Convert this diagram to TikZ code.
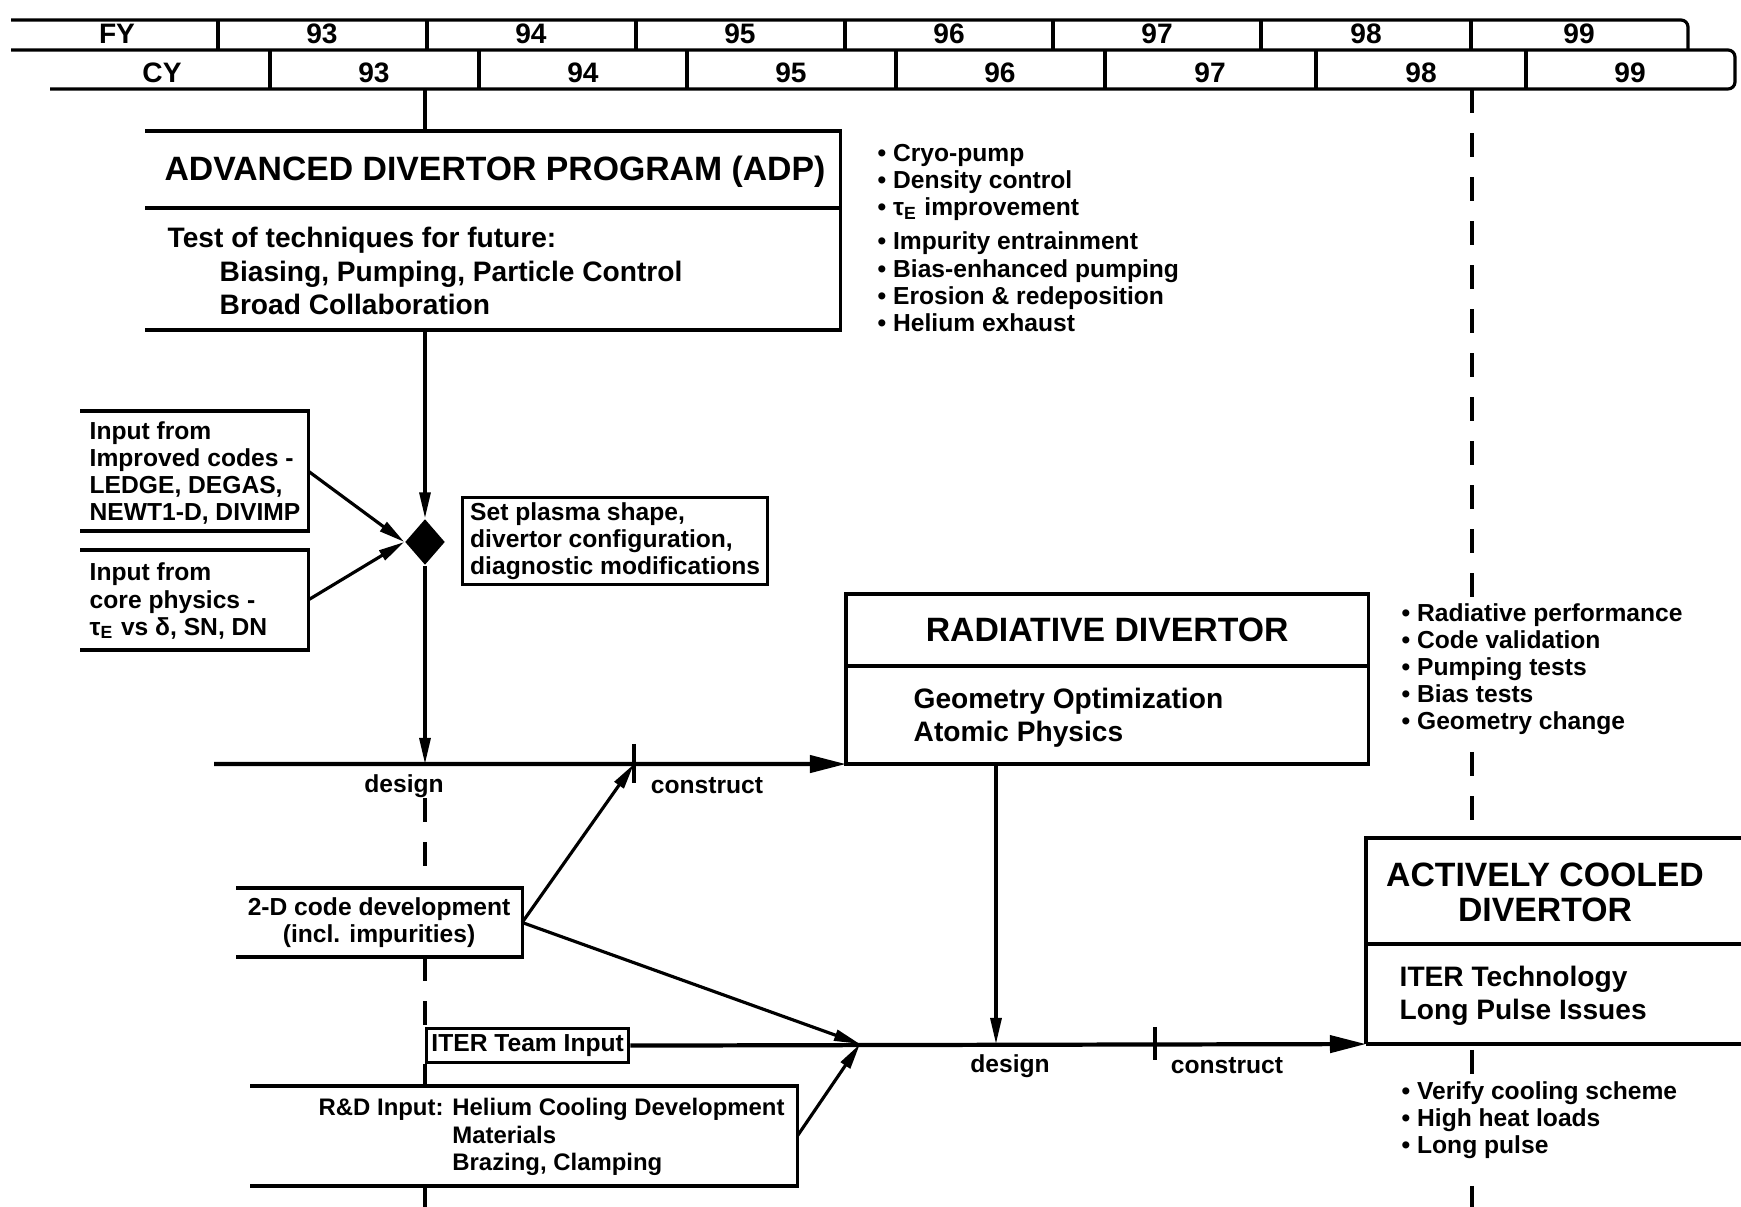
\documentclass[tikz,border=0pt]{standalone}
\usepackage{fontspec}
\setmainfont{Liberation Sans}
\usetikzlibrary{positioning, arrows.meta, shapes.geometric}

\begin{document}
\begin{tikzpicture}[x=0.01cm, y=-0.01cm,
        ln/.style={line width=0.9pt},
        tl/.style={line width=1.2pt},
        dsh/.style={line width=0.9pt, dash pattern=on 0.24cm off 0.2cm},
        arr/.style={ln, -{Triangle[length=2.6mm, width=1.1mm]}},
        bigarr/.style={tl, -{Triangle[length=3.6mm, width=1.7mm]}},
        frame/.style={anchor=north west, inner sep=0pt, outer sep=0pt},
        yr/.style={font=\bfseries\fontsize{8}{9}\selectfont},
        head/.style={inner sep=0pt, align=center, font=\bfseries\fontsize{9.6}{10}\selectfont},
        body/.style={inner sep=0pt, anchor=west, align=left, font=\bfseries\fontsize{8}{9.4}\selectfont},
        note/.style={inner sep=0pt, align=left, font=\bfseries\fontsize{7}{7.7}\selectfont}]
        \useasboundingbox (0,0) rectangle (1741,1207);
        % year table
        \draw[ln, rounded corners=2pt] (11,20) -- (1688,20) -- (1688,50);
        \draw[ln, rounded corners=2pt] (11,50) -- (1735,50) -- (1735,89) -- (50,89);
        \draw[ln] (218,20) -- (218,50) (427,20) -- (427,50) (636,20) -- (636,50) (845,20) -- (845,50)
                  (1053,20) -- (1053,50) (1261,20) -- (1261,50) (1471,20) -- (1471,50);
        \draw[ln] (270,50) -- (270,89) (479,50) -- (479,89) (687,50) -- (687,89) (896,50) -- (896,89)
                  (1105,50) -- (1105,89) (1316,50) -- (1316,89) (1526,50) -- (1526,89);
        \path[yr] (117,34) node (fy) {FY} (322,34) node (fy93) {93} (531,34) node (fy94) {94}
              (740,34) node (fy95) {95} (949,34) node (fy96) {96} (1157,34) node (fy97) {97}
              (1366,34) node (fy98) {98} (1579,34) node (fy99) {99};
        \path[yr] (162,73) node (cy) {CY} (374,73) node (cy93) {93} (583,73) node (cy94) {94}
              (791,73) node (cy95) {95} (1000,73) node (cy96) {96} (1210,73) node (cy97) {97}
              (1421,73) node (cy98) {98} (1630,73) node (cy99) {99};

        % advanced divertor program
        \node[frame, minimum width=6.95cm, minimum height=0.77cm] (adpt) at (145,131) {};
        \node[frame, minimum width=6.95cm, minimum height=1.22cm] (adpb) at (145,208) {};
        \draw[ln] (adpt.north west) -- (adpt.north east) -- (adpb.south east) -- (adpb.south west);
        \draw[ln] (adpt.south west) -- (adpt.south east);
        \draw[ln] (425,89) -- (425,131);
        \node[head] (adptx) at (495,172) {ADVANCED DIVERTOR PROGRAM (ADP)};
        \node[body] (adpbx) at (167,271) {Test of techniques for future:\\
            \hspace*{0.52cm}Biasing, Pumping, Particle Control\\
            \hspace*{0.52cm}Broad Collaboration};
        \node[note, anchor=west] (adpls) at (877,238) {• Cryo-pump\\• Density control\\
            • τ\textsubscript{E} improvement\\[2pt]• Impurity entrainment\\• Bias-enhanced pumping\\
            • Erosion \& redeposition\\• Helium exhaust};

        % inputs and diamond
        \node[diamond, fill, inner sep=0pt, minimum width=0.4cm, minimum height=0.46cm] (dia) at (425,542) {};
        \node[frame, minimum width=2.28cm, minimum height=1.2cm] (codes) at (80,411) {};
        \node[frame, minimum width=2.28cm, minimum height=1cm] (core) at (80,550) {};
        \draw[ln] (codes.north west) -- (codes.north east) -- (codes.south east) -- (codes.south west);
        \draw[ln] (core.north west) -- (core.north east) -- (core.south east) -- (core.south west);
        \node[note, anchor=west] (codestx) at (89,473) {Input from\\Improved codes -\\LEDGE, DEGAS,\\NEWT1-D, DIVIMP};
        \node[note, anchor=west] (coretx) at (89,601) {Input from\\core physics -\\τ\textsubscript{E} vs δ, SN, DN};
        \node[note, draw, ln, anchor=north west, minimum width=3.05cm, minimum height=0.87cm] (shape) at (461,496)
            {Set plasma shape,\\divertor configuration,\\diagnostic modifications};
        \draw[arr] (adpb.south -| dia) -- (dia.north);
        \draw[arr] (codes.east) -- (dia.west);
        \draw[arr] (core.east) -- (dia.west);
        \coordinate (d1) at (425,764);
        \draw[arr] (dia.south) -- (d1);

        % radiative divertor
        \node[frame, minimum width=5.22cm, minimum height=0.72cm] (rdt) at (846,594) {};
        \node[frame, minimum width=5.22cm, minimum height=0.98cm] (rdb) at (846,666) {};
        \draw[ln] (rdt.north west) rectangle (rdb.south east);
        \draw[ln] (rdt.south west) -- (rdt.south east);
        \draw[tl] (rdb.south west) -- (rdb.south east);
        \node[head] (rdtx) at (rdt.center) {RADIATIVE DIVERTOR};
        \node[body] (rdbx) at (913,718) {Geometry Optimization\\Atomic Physics};
        \node[note, anchor=west] (rdls) at (1401,669) {• Radiative performance\\• Code validation\\
            • Pumping tests\\• Bias tests\\• Geometry change};

        % first design line
        \coordinate (t1) at (214,764);
        \coordinate (c1) at (634,764);
        \draw[bigarr] (t1) -- (rdb.south west);
        \draw[ln] (634,744) -- (634,783);
        \node[note] (des1) at (404,786) {design};
        \node[note] (con1) at (707,786) {construct};

        % 2-D code, ITER and R&D inputs
        \node[frame, minimum width=2.86cm, minimum height=0.69cm] (twod) at (236,888) {};
        \draw[ln] (twod.north west) -- (twod.north east) -- (twod.south east) -- (twod.south west);
        \node[note, align=center] (twodtx) at (twod.center) {2-D code development\\(incl. impurities)};
        \node[note, draw, ln, anchor=north west, minimum width=2.02cm, minimum height=0.34cm] (iter) at (425,1027) {ITER Team Input};
        \node[frame, minimum width=5.47cm, minimum height=1cm] (rnd) at (250,1086) {};
        \draw[ln] (rnd.north west) -- (rnd.north east) -- (rnd.south east) -- (rnd.south west);
        \node[note, anchor=west, font=\bfseries\fontsize{6.8}{7.8}\selectfont] (rndtx) at (318,1137)
            {R\&D Input: Helium Cooling Development\\
            \phantom{R\&D Input: }Materials\\\phantom{R\&D Input: }Brazing, Clamping};

        % actively cooled divertor
        \node[frame, minimum width=3.75cm, minimum height=1.06cm] (acdt) at (1366,838) {};
        \node[frame, minimum width=3.75cm, minimum height=1cm] (acdb) at (1366,944) {};
        \draw[ln] (acdt.north east) -- (acdt.north west) -- (acdb.south west);
        \draw[ln] (acdt.south west) -- (acdt.south east);
        \draw[tl] (acdb.south west) -- (acdb.south east);
        \node[head] (acdtx) at (1545,892) {ACTIVELY COOLED\\DIVERTOR};
        \node[body] (acdbx) at (1399,996) {ITER Technology\\Long Pulse Issues};
        \node[note, anchor=west] (acdls) at (1401,1120) {• Verify cooling scheme\\• High heat loads\\• Long pulse};

        % second design line
        \coordinate (d2) at (996,1044);
        \coordinate (m2) at (860,1044);
        \draw[arr] (rdb.south -| d2) -- (d2);
        \draw[bigarr] (iter.east) -- (acdb.south west);
        \draw[ln] (1155,1027) -- (1155,1060);
        \node[note] (des2) at (1010,1066) {design};
        \node[note] (con2) at (1227,1066) {construct};
        \draw[arr] (twod.east) -- (c1);
        \draw[arr] (twod.east) -- (m2);
        \draw[arr] (rnd.east) -- (m2);

        % milestone lines
        \draw[dsh] (des1.south -| d1) -- (twod.north -| d1);
        \draw[dsh] (twod.south -| d1) -- (iter.north west);
        \draw[dsh] (iter.south west) -- (rnd.north -| d1);
        \draw[dsh] (rnd.south -| d1) -- (425,1207);
        \draw[dsh] (1472,89) -- (1472,598);
        \draw[dsh] (1472,752) -- (1472,838);
        \draw[dsh] (1472,1050) -- (1472,1074);
        \draw[dsh] (1472,1186) -- (1472,1207);
\end{tikzpicture}
\end{document}
